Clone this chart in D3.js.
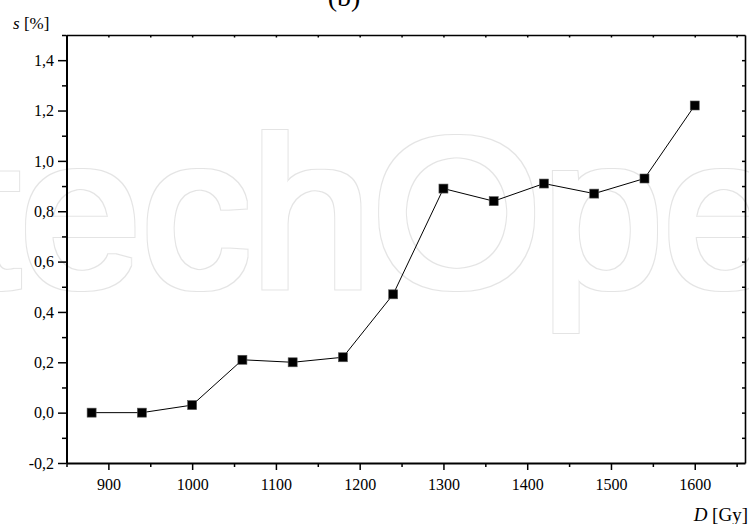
<!DOCTYPE html>
<html>
<head>
<meta charset="UTF-8">
<title>s vs D</title>
<script src="https://d3js.org/d3.v7.min.js"></script>
<style>
  body { margin: 0; padding: 0; background: #fff; }
  svg { display: block; }
</style>
</head>
<body>
<svg id="chart" width="749" height="524"></svg>
<script>
// data
const doses = [880, 940, 1000, 1060, 1120, 1180, 1240, 1300, 1360, 1420, 1480, 1540, 1600];
const sValues = [0.0, 0.0, 0.03, 0.21, 0.20, 0.22, 0.47, 0.89, 0.84, 0.91, 0.87, 0.93, 1.22];
const xTicks = [900, 1000, 1100, 1200, 1300, 1400, 1500, 1600];
const yTicks = [-0.2, 0.0, 0.2, 0.4, 0.6, 0.8, 1.0, 1.2, 1.4];

const W = 749, H = 524;
const m = { left: 66.5, right: 745, top: 35, bottom: 463 };
const serif = "'Liberation Serif', 'Times New Roman', serif";

const svg = d3.select("#chart");

// watermark: thin outline ring around the glyphs, made with a filter
const f = svg.append("defs").append("filter").attr("id", "ring")
  .attr("x", "-10%").attr("y", "-30%").attr("width", "120%").attr("height", "160%");
f.append("feMorphology").attr("in", "SourceAlpha").attr("operator", "dilate").attr("radius", 4.2).attr("result", "outer");
f.append("feMorphology").attr("in", "SourceAlpha").attr("operator", "dilate").attr("radius", 2.6).attr("result", "inner");
f.append("feComposite").attr("in", "outer").attr("in2", "inner").attr("operator", "out").attr("result", "band");
f.append("feFlood").attr("flood-color", "#e4e4e4").attr("result", "col");
f.append("feComposite").attr("in", "col").attr("in2", "band").attr("operator", "in");

svg.append("text")
  .attr("transform", "translate(-223,286) scale(1.03,1)")
  .attr("filter", "url(#ring)")
  .style("font-family", "'Liberation Sans', Arial, sans-serif")
  .style("font-size", "212px")
  .attr("fill", "#000")
  .text("IntechOpen");

const x = d3.scaleLinear().domain([850, 1660]).range([m.left, m.right]);
const y = d3.scaleLinear().domain([-0.2, 1.5]).range([m.bottom, m.top]);

const comma = v => d3.format(".1f")(v).replace(".", ",").replace("−", "-");

function styleAxis(g, w) {
  g.selectAll("line").attr("stroke", "#000").attr("stroke-width", 1.5);
  g.select(".domain").attr("stroke", "#000").attr("stroke-width", w);
  g.selectAll("text").style("font-family", serif).style("font-size", "16px").attr("fill", "#000");
}

// bottom axis: minor then major
svg.append("g")
  .attr("transform", `translate(0,${m.bottom})`)
  .call(d3.axisBottom(x).tickValues(d3.range(850, 1651, 100)).tickSize(4).tickSizeOuter(0))
  .call(g => { g.selectAll("text").remove(); g.select(".domain").remove(); styleAxis(g, 0); });

svg.append("g")
  .attr("transform", `translate(0,${m.bottom})`)
  .call(d3.axisBottom(x).tickValues(xTicks).tickSize(7).tickSizeOuter(0).tickPadding(9).tickFormat(d3.format("d")))
  .call(g => styleAxis(g, 2));

// left axis
svg.append("g")
  .attr("transform", `translate(${m.left},0)`)
  .call(d3.axisLeft(y).tickValues(d3.range(-0.1, 1.55, 0.2)).tickSize(4.5).tickSizeOuter(0))
  .call(g => { g.selectAll("text").remove(); g.select(".domain").remove(); styleAxis(g, 0); });

svg.append("g")
  .attr("transform", `translate(${m.left},0)`)
  .call(d3.axisLeft(y).tickValues(yTicks).tickSize(8.5).tickSizeOuter(0).tickPadding(4).tickFormat(comma))
  .call(g => styleAxis(g, 2));

// top axis, ticks inside
svg.append("g")
  .attr("transform", `translate(0,${m.top})`)
  .call(d3.axisTop(x).tickValues(d3.range(850, 1651, 50)).tickSize(-2.5).tickSizeOuter(0))
  .call(g => { g.selectAll("text").remove(); styleAxis(g, 1.6); });

// right axis, ticks inside
svg.append("g")
  .attr("transform", `translate(${m.right},0)`)
  .call(d3.axisRight(y).tickValues(d3.range(-0.1, 1.45, 0.1)).tickSize(-3).tickSizeOuter(0))
  .call(g => { g.selectAll("text").remove(); styleAxis(g, 1.6); });

// series line
const pts = doses.map((d, i) => [d, sValues[i]]);
svg.append("path")
  .datum(pts)
  .attr("fill", "none")
  .attr("stroke", "#000")
  .attr("stroke-width", 1)
  .attr("d", d3.line().x(d => x(d[0])).y(d => y(d[1])));

// square markers
const sz = 9;
svg.append("g").selectAll("rect")
  .data(pts)
  .join("rect")
  .attr("x", d => x(d[0]) - sz / 2)
  .attr("y", d => y(d[1]) - sz / 2)
  .attr("width", sz)
  .attr("height", sz)
  .attr("fill", "#000")
  .attr("stroke", "#555")
  .attr("stroke-width", 0.6);

// axis titles
const yt = svg.append("text").attr("x", 13).attr("y", 29)
  .style("font-family", serif).style("font-size", "17px");
yt.append("tspan").style("font-style", "italic").text("s");
yt.append("tspan").text(" [%]");

const xt = svg.append("text").attr("x", W - 1).attr("y", 521)
  .attr("text-anchor", "end")
  .style("font-family", serif).style("font-size", "19px");
xt.append("tspan").style("font-style", "italic").text("D");
xt.append("tspan").text(" [Gy]");

// panel label, cut off at the top edge
svg.append("text").attr("x", 344).attr("y", 6)
  .attr("text-anchor", "middle")
  .style("font-family", serif).style("font-size", "28px")
  .text("(b)");
</script>
</body>
</html>
